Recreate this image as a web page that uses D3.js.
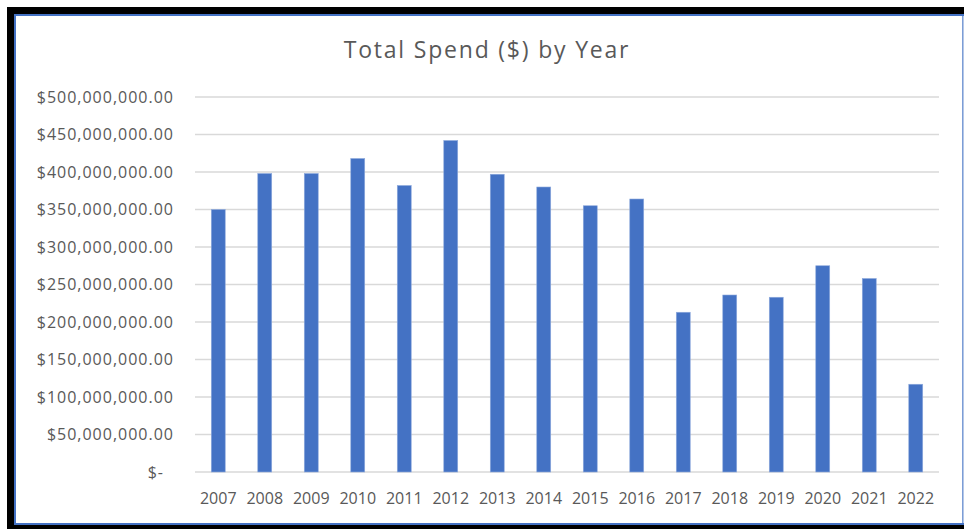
<!DOCTYPE html>
<html lang="en">
<head>
<meta charset="UTF-8">
<title>Total Spend ($) by Year</title>
<script src="https://d3js.org/d3.v7.min.js"></script>
<style>
  html, body { margin: 0; padding: 0; background: #fff; }
  svg { display: block; }
  text { font-family: "Open Sans", "Liberation Sans", sans-serif; fill: #595959; }
</style>
</head>
<body>
<div id="chart"></div>
<script>
// data
const years = ["2007", "2008", "2009", "2010", "2011", "2012", "2013", "2014",
               "2015", "2016", "2017", "2018", "2019", "2020", "2021", "2022"];
const spend = [350e6, 398e6, 398e6, 418e6, 382e6, 442e6, 397e6, 380e6,
               355e6, 364e6, 213e6, 236e6, 233e6, 275e6, 258e6, 117e6];
const yTicks = [0, 50e6, 100e6, 150e6, 200e6, 250e6, 300e6, 350e6, 400e6, 450e6, 500e6];
const title = "Total Spend ($) by Year";

const width = 964, height = 529;

const svg = d3.select("#chart").append("svg")
    .attr("width", width)
    .attr("height", height);

// outer frame: black band on top/left/bottom, blue edge
svg.append("rect").attr("x", 7).attr("y", 7).attr("width", width - 7).attr("height", height - 7)
    .attr("fill", "#000");
svg.append("rect").attr("x", 14).attr("y", 14).attr("width", 950).attr("height", 511)
    .attr("fill", "#4472c4");
svg.append("rect").attr("x", 16).attr("y", 16).attr("width", 946).attr("height", 507)
    .attr("fill", "#fff");
svg.append("rect").attr("x", 962.5).attr("y", 16).attr("width", 1.5).attr("height", 507)
    .attr("fill", "#b4c7e7");

const x = d3.scaleBand()
    .domain(years)
    .range([195, 939])
    .paddingInner(0.7)
    .paddingOuter(0.35);

const y = d3.scaleLinear()
    .domain([0, 500e6])
    .range([472, 97]);

// gridlines
svg.append("g")
    .selectAll("line")
    .data(yTicks)
    .enter().append("line")
    .attr("x1", 195)
    .attr("x2", 939)
    .attr("y1", d => y(d))
    .attr("y2", d => y(d))
    .attr("stroke", "#d9d9d9")
    .attr("stroke-width", 1.3);

// y labels
const fmt = d3.format(",.2f");
svg.append("g")
    .selectAll("text")
    .data(yTicks)
    .enter().append("text")
    .attr("x", d => d === 0 ? 164 : 174)
    .attr("y", d => y(d))
    .attr("dy", "0.35em")
    .attr("text-anchor", "end")
    .style("font-size", "16px")
    .style("letter-spacing", "1px")
    .text(d => d === 0 ? "$-" : "$" + fmt(d));

// bars
svg.append("g")
    .selectAll("rect")
    .data(years)
    .enter().append("rect")
    .attr("x", d => x(d))
    .attr("width", x.bandwidth())
    .attr("y", (d, i) => y(spend[i]))
    .attr("height", (d, i) => y(0) - y(spend[i]))
    .attr("fill", "#4472c4")
    .attr("stroke", "#8faadc")
    .attr("stroke-width", 0.6);

// x labels
svg.append("g")
    .selectAll("text")
    .data(years)
    .enter().append("text")
    .attr("x", d => x(d) + x.bandwidth() / 2)
    .attr("y", 504)
    .attr("text-anchor", "middle")
    .style("font-size", "16px")
    .text(d => d);

// title
svg.append("text")
    .attr("x", 487)
    .attr("y", 58)
    .attr("text-anchor", "middle")
    .style("font-size", "23px")
    .style("letter-spacing", "1.8px")
    .text(title);
</script>
</body>
</html>
